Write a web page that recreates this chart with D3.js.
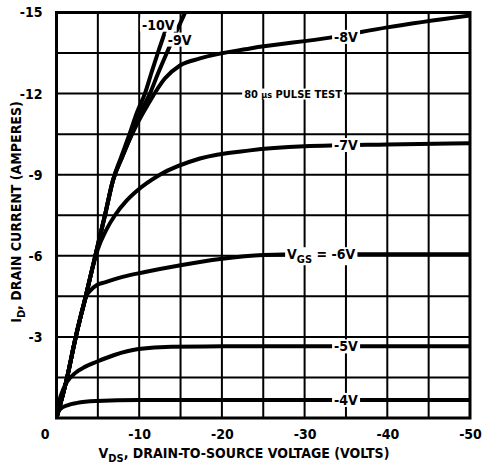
<!DOCTYPE html>
<html><head><meta charset="utf-8">
<script src="https://cdn.jsdelivr.net/npm/d3@7"></script>
<style>body{margin:0;background:#fff}</style>
</head><body>
<svg id="c" width="484" height="466"></svg>
<script>
// Axis values are shown as negative numbers (P-channel); data stored as magnitudes.
const xTickValues = [0, 10, 20, 30, 40, 50];
const yTickValues = [3, 6, 9, 12, 15];
const xGridValues = [5, 10, 15, 20, 25, 30, 35, 40, 45];
const yGridValues = [1.5, 3, 4.5, 6, 7.5, 9, 10.5, 12, 13.5];

// [VDS magnitude, ID magnitude]
const vgs10 = [[0,0],[1.21,1.4],[2.3,2.96],[3.51,4.47],[4.66,5.96],[5.86,7.5],[6.83,8.79],[7.8,9.64],[8.77,10.45],[9.73,11.3],[10.7,12.01],[11.49,12.78],[12.27,13.52],[13.1,14.26]];
const vgs9 = [[0,0],[1.21,1.4],[2.3,2.96],[3.51,4.47],[4.66,5.96],[5.86,7.5],[6.83,8.79],[7.92,9.64],[9.01,10.45],[10.1,11.27],[11.31,12.01],[12.27,12.74],[13.36,13.52],[14.51,14.3],[15.66,15.07]];
const vgs8 = [[0,0],[1.21,1.4],[2.3,2.96],[3.51,4.47],[4.66,5.96],[5.86,7.5],[6.83,8.79],[7.92,9.64],[9.01,10.42],[10.04,11.05],[11.06,11.6],[13.1,12.56],[14.93,13.04],[17.35,13.3],[23.4,13.67],[33.07,14.07],[40,14.45],[50,14.89]];
const vgs7 = [[0,0],[1.21,1.4],[2.3,2.96],[3.51,4.47],[4.4,5.6],[5.0,6.25],[6.0,6.95],[7.07,7.5],[8.5,8.05],[9.7,8.4],[12.5,9.0],[17.35,9.6],[23.4,9.9],[30,10.05],[40,10.12],[50,10.16]];
const vgs6 = [[0,0],[1.21,1.4],[2.3,2.96],[3.2,4.1],[3.6,4.5],[4.2,4.75],[4.9,4.92],[5.86,5.02],[8,5.22],[10.7,5.4],[15,5.65],[19.8,5.88],[25,6.03],[30,6.06],[40,6.06],[50,6.06]];
const vgs5 = [[0,0],[0.4,0.7],[0.8,1.05],[1.3,1.35],[2.24,1.66],[3.5,1.9],[4.86,2.08],[7,2.33],[9.9,2.55],[13.9,2.64],[20,2.65],[50,2.65]];
const vgs4 = [[0,0],[0.15,0.2],[0.45,0.33],[1.4,0.48],[2.5,0.56],[4.86,0.63],[9.9,0.67],[50,0.67]];

const seriesList = [vgs4, vgs5, vgs6, vgs7, vgs8, vgs9, vgs10];

// curve annotations [text, VDS, ID]
const labelTexts = ["-10V", "-9V", "-8V", "-7V", "-5V", "-4V"];
const labelV = [12.3, 14.9, 35, 35, 35, 35];
const labelI = [14.55, 14.0, 14.1, 10.1, 2.65, 0.67];

const W = 484, H = 466;
const svg = d3.select("#c");
const FONT = "'Liberation Sans Narrow','Arial Narrow','DejaVu Sans Condensed',sans-serif";

const x = d3.scaleLinear().domain([0, 50]).range([56.5, 470]);
const y = d3.scaleLinear().domain([0, 15]).range([418, 12.5]);

svg.append("rect").attr("width", W).attr("height", H).attr("fill", "#fff");

// grid
const g = svg.append("g");
g.selectAll(".vg").data(xGridValues).join("line")
  .attr("x1", d => x(d)).attr("x2", d => x(d)).attr("y1", y(0)).attr("y2", y(15))
  .attr("stroke", "#000").attr("stroke-width", 2);
g.selectAll(".hg").data(yGridValues).join("line")
  .attr("x1", x(0)).attr("x2", x(50)).attr("y1", d => y(d)).attr("y2", d => y(d))
  .attr("stroke", "#000").attr("stroke-width", 2);

// clip
svg.append("clipPath").attr("id", "pc").append("rect")
  .attr("x", x(0)).attr("y", y(15)).attr("width", x(50) - x(0)).attr("height", y(0) - y(15));

const line = d3.line().x(d => x(d[0])).y(d => y(d[1])).curve(d3.curveMonotoneX);
svg.append("g").attr("clip-path", "url(#pc)").selectAll("path").data(seriesList).join("path")
  .attr("d", line).attr("fill", "none").attr("stroke", "#000").attr("stroke-width", 4)
  .attr("stroke-linejoin", "round").attr("stroke-linecap", "round");

// labels with white backgrounds
const lg = svg.append("g");
function boxed(sel, pad) {
  const bb = sel.node().getBBox();
  const r = d3.select(sel.node().parentNode).insert("rect", "text");
  r.attr("x", bb.x - pad).attr("y", bb.y + 1).attr("width", bb.width + 2 * pad).attr("height", bb.height - 2).attr("fill", "#fff");
}
labelTexts.forEach((t, k) => {
  const gg = lg.append("g");
  const tx = gg.append("text").attr("x", x(labelV[k])).attr("y", y(labelI[k])).attr("dy", "0.36em")
    .attr("text-anchor", "middle").attr("font-family", FONT).attr("font-weight", "bold")
    .attr("font-size", 14).text(t);
  boxed(tx, 2);
});
// VGS = -6V
{
  const gg = lg.append("g");
  const tx = gg.append("text").attr("x", x(32)).attr("y", y(6.06)).attr("dy", "0.36em")
    .attr("text-anchor", "middle").attr("font-family", FONT).attr("font-weight", "bold").attr("font-size", 14);
  tx.append("tspan").text("V");
  tx.append("tspan").attr("dy", 4).attr("font-size", 11).text("GS");
  tx.append("tspan").attr("dy", -4).text(" = -6V");
  boxed(tx, 2);
}
// pulse test note
{
  const gg = lg.append("g");
  const tx = gg.append("text").attr("x", x(28.6)).attr("y", y(12)).attr("dy", "0.36em")
    .attr("text-anchor", "middle").attr("font-family", FONT).attr("font-weight", "bold").attr("font-size", 11);
  tx.append("tspan").text("80 ");
  tx.append("tspan").attr("font-size", 9).text("μs");
  tx.append("tspan").text(" PULSE TEST");
  boxed(tx, 2);
}

// border
svg.append("rect").attr("x", x(0)).attr("y", y(15)).attr("width", x(50) - x(0)).attr("height", y(0) - y(15))
  .attr("fill", "none").attr("stroke", "#000").attr("stroke-width", 3);

// axes
const fmt = d => d === 0 ? "0" : "-" + d;
const xa = svg.append("g").attr("transform", `translate(0,${y(0)})`)
  .call(d3.axisBottom(x).tickValues(xTickValues).tickSize(0).tickPadding(11).tickFormat(fmt));
const ya = svg.append("g").attr("transform", `translate(${x(0)},0)`)
  .call(d3.axisLeft(y).tickValues(yTickValues).tickSize(0).tickPadding(14).tickFormat(fmt));
[xa, ya].forEach(a => {
  a.select(".domain").remove();
  a.selectAll("text").attr("font-family", FONT).attr("font-weight", "bold").attr("font-size", 14).attr("fill", "#000");
});
xa.selectAll(".tick").filter(d => d === 0).select("text").attr("x", -12);

// axis titles
{
  const t = svg.append("text").attr("x", 244).attr("y", 458).attr("text-anchor", "middle")
    .attr("font-family", FONT).attr("font-weight", "bold").attr("font-size", 14);
  t.append("tspan").text("V");
  t.append("tspan").attr("dy", 4).attr("font-size", 11).text("DS");
  t.append("tspan").attr("dy", -4).text(", DRAIN-TO-SOURCE VOLTAGE (VOLTS)");
}
{
  const t = svg.append("text").attr("transform", "translate(21,212) rotate(-90)").attr("text-anchor", "middle")
    .attr("font-family", FONT).attr("font-weight", "bold").attr("font-size", 14);
  t.append("tspan").text("I");
  t.append("tspan").attr("dy", 4).attr("font-size", 11).text("D");
  t.append("tspan").attr("dy", -4).text(", DRAIN CURRENT (AMPERES)");
}
</script>
</body></html>
